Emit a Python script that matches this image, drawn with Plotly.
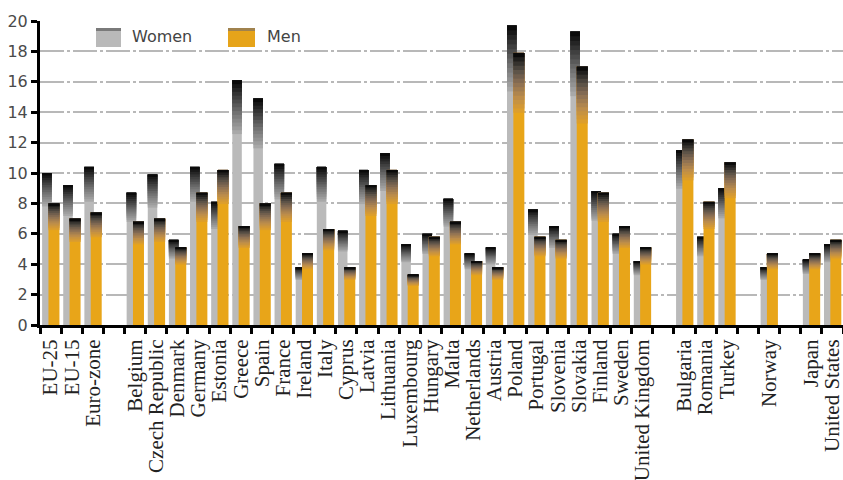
import plotly.graph_objects as go

# Countries (blank entries leave gaps between country groups)
categories = [
    "EU-25", "EU-15", "Euro-zone", " ",
    "Belgium", "Czech Republic", "Denmark", "Germany", "Estonia", "Greece",
    "Spain", "France", "Ireland", "Italy", "Cyprus", "Latvia", "Lithuania",
    "Luxembourg", "Hungary", "Malta", "Netherlands", "Austria", "Poland",
    "Portugal", "Slovenia", "Slovakia", "Finland", "Sweden", "United Kingdom",
    "  ", "Bulgaria", "Romania", "Turkey", "   ", "Norway", "    ",
    "Japan", "United States",
]

women = [
    10.0, 9.2, 10.4, None,
    8.7, 9.9, 5.6, 10.4, 8.1, 16.1,
    14.9, 10.6, 3.8, 10.4, 6.2, 10.2, 11.3,
    5.3, 6.0, 8.3, 4.7, 5.1, 19.7,
    7.6, 6.5, 19.3, 8.8, 6.0, 4.2,
    None, 11.5, 5.8, 9.0, None, 3.8, None,
    4.3, 5.3,
]

men = [
    8.0, 7.0, 7.4, None,
    6.8, 7.0, 5.1, 8.7, 10.2, 6.5,
    8.0, 8.7, 4.7, 6.3, 3.8, 9.2, 10.2,
    3.3, 5.8, 6.8, 4.2, 3.8, 17.9,
    5.8, 5.6, 17.0, 8.7, 6.5, 5.1,
    None, 12.2, 8.1, 10.7, None, 4.7, None,
    4.7, 5.6,
]

y_ticks = list(range(0, 21, 2))

GRAY = (186, 186, 186)
ORANGE = (232, 165, 25)
GRAD_SHARE = 0.22   # top share of each bar that fades to black
STEPS = 14

gray_stops = [(0.0, (168, 168, 168)), (0.4, (112, 112, 112)),
              (0.75, (54, 54, 54)), (1.0, (10, 10, 10))]
orange_stops = [(0.0, (220, 158, 44)), (0.25, (186, 140, 76)),
                (0.5, (138, 110, 84)), (0.72, (88, 80, 70)),
                (0.88, (44, 42, 40)), (1.0, (10, 10, 10))]


def ramp(stops, t):
    for (t0, c0), (t1, c1) in zip(stops, stops[1:]):
        if t <= t1:
            f = (t - t0) / (t1 - t0)
            return "rgb(%d,%d,%d)" % tuple(round(a + (b - a) * f) for a, b in zip(c0, c1))
    return "rgb(%d,%d,%d)" % stops[-1][1]


def bar_layers(values, base_rgb, stops, offset, width):
    """Full bar in the base colour, then darker layers from each step up to the top."""
    traces = [go.Bar(
        x=categories, y=values, offset=offset, width=width,
        marker=dict(color="rgb(%d,%d,%d)" % base_rgb, line_width=0),
        showlegend=False, hoverinfo="skip")]
    for i in range(STEPS):
        start = (1 - GRAD_SHARE) + GRAD_SHARE * i / STEPS
        seg_base = [None if v is None else v * start for v in values]
        seg_h = [None if v is None else v * (1 - start) for v in values]
        traces.append(go.Bar(
            x=categories, y=seg_h, base=seg_base, offset=offset, width=width,
            marker=dict(color=ramp(stops, i / (STEPS - 1)), line_width=0),
            showlegend=False, hoverinfo="skip"))
    return traces


fig = go.Figure()
for tr in bar_layers(women, GRAY, gray_stops, -0.40, 0.45):
    fig.add_trace(tr)
for tr in bar_layers(men, ORANGE, orange_stops, -0.10, 0.52):
    fig.add_trace(tr)

# Legend drawn as swatches with a darker top strip
legend_items = [("Women", "#b9b9b9", "#7a7a7a", 56, 81, 90),
                ("Men", "#e6a41a", "#a0824e", 188, 215, 225)]
for name, body, strip, x0, x1, tx in legend_items:
    fig.add_shape(type="rect", xref="paper", yref="paper", xsizemode="pixel",
                  ysizemode="pixel", xanchor=0, yanchor=1, x0=x0, x1=x1, y0=-7, y1=-26,
                  fillcolor=body, line_width=0)
    fig.add_shape(type="rect", xref="paper", yref="paper", xsizemode="pixel",
                  ysizemode="pixel", xanchor=0, yanchor=1, x0=x0, x1=x1, y0=-7, y1=-10,
                  fillcolor=strip, line_width=0)
    fig.add_annotation(text=name, xref="paper", yref="paper", x=tx / 803, y=1 - 16 / 304,
                       xanchor="left", yanchor="middle", showarrow=False,
                       font=dict(family="DejaVu Sans", size=16, color="#444444"))

fig.update_layout(
    width=843, height=480,
    margin=dict(l=40, r=0, t=21, b=155),
    barmode="overlay",
    plot_bgcolor="white", paper_bgcolor="white",
    showlegend=False,
)
fig.update_xaxes(
    type="category", categoryorder="array", categoryarray=categories,
    tickmode="array", tickvals=categories, ticktext=categories,
    tickangle=-90, ticks="outside", tickson="boundaries", ticklen=6, tickwidth=3,
    tickcolor="black", showline=True, linewidth=3, linecolor="black",
    showgrid=False, ticklabelstandoff=3,
    tickfont=dict(family="Liberation Serif", size=21, color="#222222"),
)
fig.update_yaxes(
    range=[0, 20], tickvals=y_ticks, ticks="outside", ticklen=6, tickwidth=3,
    tickcolor="black", showline=True, linewidth=3, linecolor="black",
    showgrid=True, gridcolor="#b8b8b8", gridwidth=2, griddash="24px,3px,3px,3px",
    zeroline=False,
    tickfont=dict(family="DejaVu Sans", size=16, color="#4a4a4a"),
)

fig.write_html("out.html")
